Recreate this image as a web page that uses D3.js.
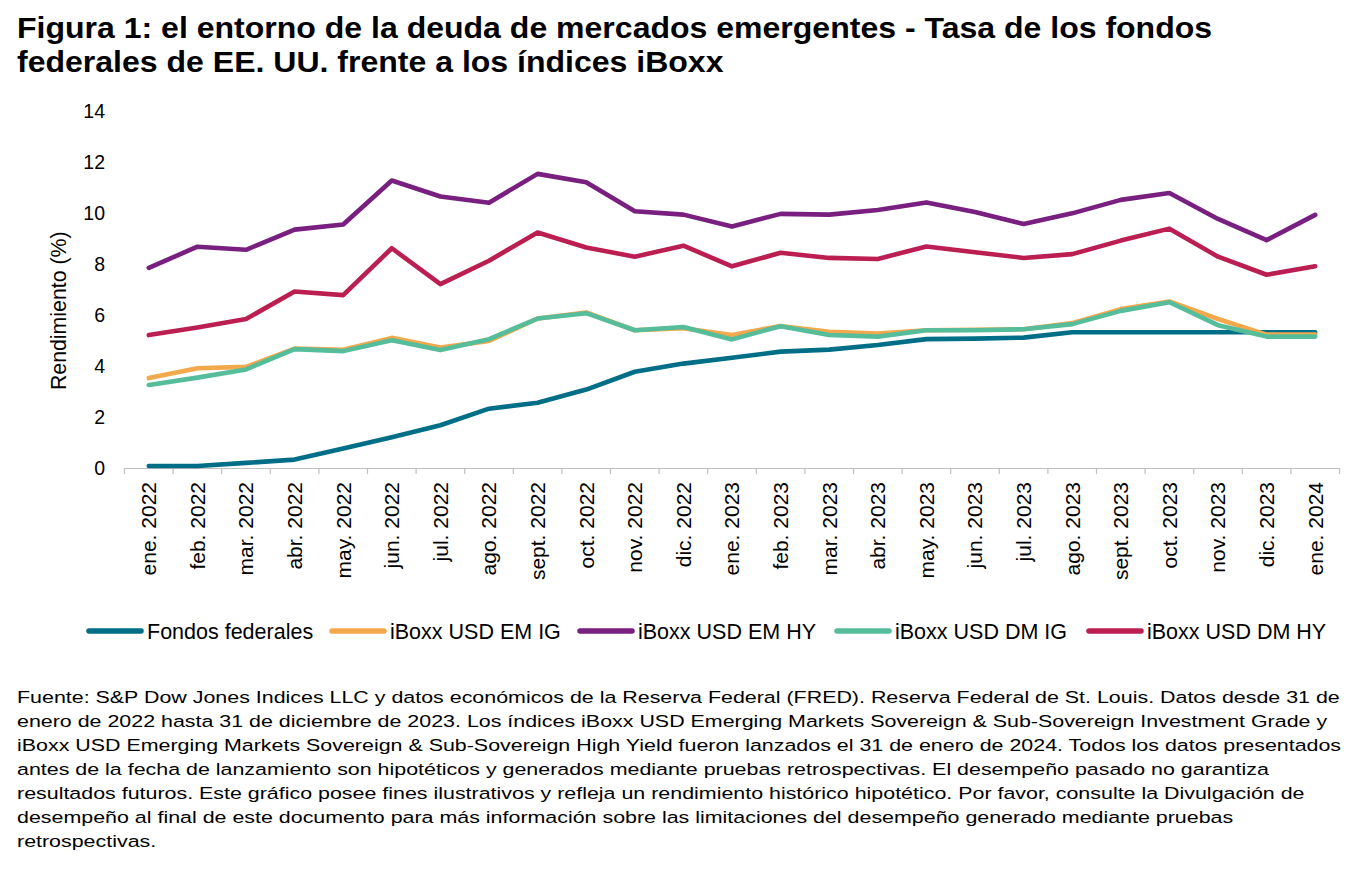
<!DOCTYPE html>
<html>
<head>
<meta charset="utf-8">
<script src="https://cdn.jsdelivr.net/npm/d3@7"></script>
<style>
  html, body { margin: 0; padding: 0; background: #ffffff; }
  svg { display: block; font-family: "Liberation Sans", Arial, sans-serif; }
</style>
</head>
<body>
<svg id="chart" width="1363" height="877"></svg>
<script>
const months = ["ene. 2022","feb. 2022","mar. 2022","abr. 2022","may. 2022","jun. 2022","jul. 2022","ago. 2022","sept. 2022","oct. 2022","nov. 2022","dic. 2022","ene. 2023","feb. 2023","mar. 2023","abr. 2023","may. 2023","jun. 2023","jul. 2023","ago. 2023","sept. 2023","oct. 2023","nov. 2023","dic. 2023","ene. 2024"];
const fedFunds = [0.08,0.08,0.20,0.33,0.77,1.21,1.68,2.33,2.56,3.08,3.78,4.10,4.33,4.57,4.65,4.83,5.06,5.08,5.12,5.33,5.33,5.33,5.33,5.33,5.33];
const emIG = [3.53,3.92,3.97,4.69,4.64,5.11,4.73,4.99,5.87,6.11,5.41,5.49,5.22,5.58,5.35,5.28,5.41,5.43,5.45,5.69,6.24,6.54,5.85,5.24,5.24];
const emHY = [7.86,8.69,8.57,9.36,9.56,11.29,10.66,10.42,11.55,11.22,10.08,9.95,9.48,9.98,9.95,10.13,10.43,10.05,9.58,10.00,10.53,10.80,9.78,8.95,9.94];
const dmIG = [3.26,3.55,3.87,4.67,4.59,5.02,4.63,5.06,5.87,6.08,5.41,5.54,5.05,5.57,5.22,5.16,5.41,5.41,5.45,5.65,6.17,6.51,5.61,5.16,5.16];
const dmHY = [5.22,5.52,5.85,6.93,6.79,8.63,7.22,8.14,9.25,8.66,8.30,8.73,7.92,8.45,8.25,8.21,8.70,8.47,8.25,8.40,8.93,9.40,8.30,7.59,7.92];
const seriesNames = ["Fondos federales","iBoxx USD EM IG","iBoxx USD EM HY","iBoxx USD DM IG","iBoxx USD DM HY"];
const seriesColors = ["#006e87","#f2a84b","#781f80","#56bd9b","#bb1e50"];
const yTicks = [0,2,4,6,8,10,12,14];
const titleLines = ["Figura 1: el entorno de la deuda de mercados emergentes - Tasa de los fondos","federales de EE. UU. frente a los índices iBoxx"];
const noteLines = [
 "Fuente: S&P Dow Jones Indices LLC y datos económicos de la Reserva Federal (FRED). Reserva Federal de St. Louis. Datos desde 31 de",
 "enero de 2022 hasta 31 de diciembre de 2023. Los índices iBoxx USD Emerging Markets Sovereign & Sub-Sovereign Investment Grade y",
 "iBoxx USD Emerging Markets Sovereign & Sub-Sovereign High Yield fueron lanzados el 31 de enero de 2024. Todos los datos presentados",
 "antes de la fecha de lanzamiento son hipotéticos y generados mediante pruebas retrospectivas. El desempeño pasado no garantiza",
 "resultados futuros. Este gráfico posee fines ilustrativos y refleja un rendimiento histórico hipotético. Por favor, consulte la Divulgación de",
 "desempeño al final de este documento para más información sobre las limitaciones del desempeño generado mediante pruebas",
 "retrospectivas."
];

const allSeries = [fedFunds, emIG, emHY, dmIG, dmHY];
const svg = d3.select("#chart");

// Title
const titleG = svg.append("g");
const tt = titleG.selectAll("text").data(titleLines).join("text")
  .attr("x", 0).attr("y", (d,i) => 38.5 + i*34)
  .attr("font-size", 30).attr("font-weight", "bold").attr("fill", "#000")
  .text(d => d);
const tW = tt.nodes()[0].getComputedTextLength();
titleG.attr("transform", `translate(17,0) scale(${1196 / tW},1)`);

// Scales
const x = d3.scaleBand().domain(months).range([124.5, 1339.5]).paddingInner(0).paddingOuter(0);
const y = d3.scaleLinear().domain([0, 14]).range([468, 111.5]);
const cx = d => x(d) + x.bandwidth()/2;

// Y axis labels
svg.append("g").selectAll("text").data(yTicks).join("text")
  .attr("x", 105).attr("y", d => y(d)).attr("dy", "0.35em")
  .attr("text-anchor", "end").attr("font-size", 19.5).attr("fill", "#000")
  .text(d => d);

svg.append("text")
  .attr("transform", `translate(66,${(y(0)+y(14))/2+21}) rotate(-90)`)
  .attr("text-anchor", "middle").attr("font-size", 21.3).attr("fill", "#000")
  .text("Rendimiento (%)");

// X axis
const xAxis = d3.axisBottom(x).tickSize(0).tickFormat("");
const gx = svg.append("g").attr("transform", `translate(0,${y(0)})`).call(xAxis);
gx.select(".domain").attr("stroke", "#bfbfbf").attr("stroke-width", 1.2);
const bounds = months.map(m => x(m)).concat([x.range()[1]]);
svg.append("g").selectAll("line").data(bounds).join("line")
  .attr("x1", d => d).attr("x2", d => d)
  .attr("y1", y(0)).attr("y2", y(0)+6)
  .attr("stroke", "#bfbfbf").attr("stroke-width", 1.2);

svg.append("g").selectAll("text").data(months).join("text")
  .attr("transform", d => `translate(${cx(d)},482) rotate(-90)`)
  .attr("text-anchor", "end").attr("dy", "0.35em")
  .attr("font-size", 21).attr("fill", "#000")
  .text(d => d);

// Lines
const line = d3.line().x((d,i) => cx(months[i])).y(d => y(d));
svg.append("g").selectAll("path").data(allSeries).join("path")
  .attr("d", d => line(d))
  .attr("fill", "none")
  .attr("stroke", (d,i) => seriesColors[i])
  .attr("stroke-width", 4.6)
  .attr("stroke-linejoin", "round")
  .attr("stroke-linecap", "round");

// Legend
const legX = [89, 332, 580, 837, 1089];
const legY = 631;
const lg = svg.append("g").selectAll("g").data(seriesNames).join("g");
lg.append("line")
  .attr("x1", (d,i) => legX[i]).attr("x2", (d,i) => legX[i] + 52)
  .attr("y1", legY).attr("y2", legY)
  .attr("stroke", (d,i) => seriesColors[i]).attr("stroke-width", 5.5)
  .attr("stroke-linecap", "round");
lg.append("text")
  .attr("x", (d,i) => legX[i] + 58).attr("y", legY).attr("dy", "0.35em")
  .attr("font-size", 21.5).attr("fill", "#000")
  .text(d => d);

// Footnote
const noteG = svg.append("g");
const nt = noteG.selectAll("text").data(noteLines).join("text")
  .attr("x", 0).attr("y", (d,i) => 703.5 + i*24)
  .attr("font-size", 17).attr("fill", "#000")
  .text(d => d);
const nW = nt.nodes()[0].getComputedTextLength();
noteG.attr("transform", `translate(17,0) scale(${1323 / nW},1)`);
</script>
</body>
</html>
